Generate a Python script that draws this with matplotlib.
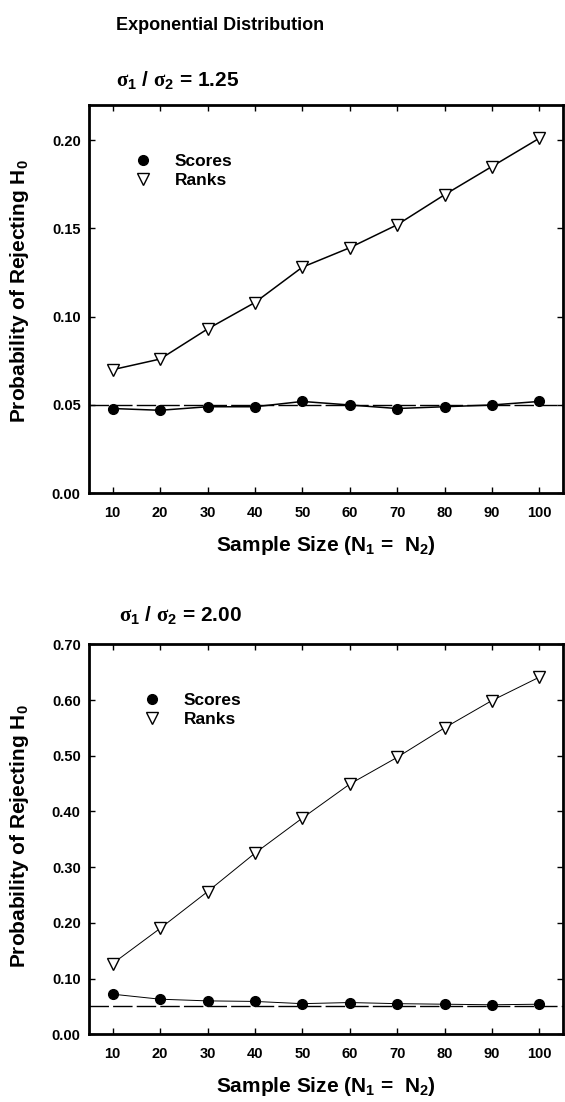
import matplotlib
matplotlib.use("Agg")
import matplotlib.pyplot as plt
from matplotlib.lines import Line2D

plt.rcParams['font.family'] = ['Liberation Sans', 'DejaVu Sans']
plt.rcParams['font.weight'] = 'bold'
plt.rcParams['mathtext.fontset'] = 'custom'
plt.rcParams['mathtext.rm'] = 'Liberation Sans:bold'
plt.rcParams['mathtext.bf'] = 'Liberation Sans:bold'
plt.rcParams['mathtext.it'] = 'Liberation Serif:bold'

# ---- data ----
sample_sizes = [10, 20, 30, 40, 50, 60, 70, 80, 90, 100]
scores_125 = [0.048, 0.047, 0.049, 0.049, 0.052, 0.050, 0.048, 0.049, 0.050, 0.052]
ranks_125 = [0.070, 0.076, 0.093, 0.108, 0.128, 0.139, 0.152, 0.169, 0.185, 0.201]
scores_200 = [0.072, 0.063, 0.060, 0.059, 0.055, 0.057, 0.055, 0.054, 0.053, 0.054]
ranks_200 = [0.127, 0.190, 0.256, 0.325, 0.388, 0.449, 0.497, 0.550, 0.599, 0.641]
alpha_level = 0.05
yticks_125 = [0.00, 0.05, 0.10, 0.15, 0.20]
yticks_200 = [0.00, 0.10, 0.20, 0.30, 0.40, 0.50, 0.60, 0.70]

W, H = 565, 1102
fig = plt.figure(figsize=(W / 100, H / 100), dpi=100)

def px_axes(left, top, right, bottom):
    return fig.add_axes([left / W, 1 - bottom / H, (right - left) / W, (bottom - top) / H])

ax1 = px_axes(89, 104.7, 563, 493.3)
ax2 = px_axes(89, 644.3, 563, 1034.3)

def style(ax, ylim, yticks, legend_anchor, ylab_y):
    ax.set_xlim(5, 105)
    ax.set_ylim(*ylim)
    ax.set_xticks(sample_sizes)
    ax.set_yticks(yticks)
    ax.set_yticklabels([f"{v:.2f}" for v in yticks])
    for s in ax.spines.values():
        s.set_linewidth(2.0)
    ax.tick_params(direction='in', length=4.3, width=1.0, top=True, right=True,
                   labelsize=10.5, pad=6)
    ax.tick_params(axis='x', pad=9)
    for lab in ax.get_xticklabels() + ax.get_yticklabels():
        lab.set_fontweight('bold')
    ax.set_xlabel(r"Sample Size (N$_1$ =  N$_2$)", fontsize=15, fontweight='bold')
    ax.set_ylabel(r"Probability of Rejecting H$_0$", fontsize=15, fontweight='bold')
    ax.xaxis.set_label_coords(0.5, -0.105)
    ax.yaxis.set_label_coords(-0.122, ylab_y)
    handles = [Line2D([], [], marker='o', linestyle='none', color='black', markersize=7),
               Line2D([], [], marker='v', linestyle='none', markerfacecolor='white',
                      markeredgecolor='black', markersize=8, markeredgewidth=1.0)]
    leg = ax.legend(handles, ['Scores', 'Ranks'], loc='upper left',
                    bbox_to_anchor=legend_anchor, frameon=False, fontsize=12.5,
                    handlelength=1.0, handletextpad=1.34, borderpad=0,
                    borderaxespad=0, labelspacing=0.22, numpoints=1)
    for t in leg.get_texts():
        t.set_fontweight('bold')

def draw(ax, scores, ranks, lw):
    ax.axhline(alpha_level, color='black', lw=1.0, dashes=(14, 3), zorder=1)
    ax.plot(sample_sizes, scores, color='black', lw=lw, marker='o', markersize=7, zorder=3)
    ax.plot(sample_sizes, ranks, color='black', lw=lw, marker='v', markersize=8,
            markerfacecolor='white', markeredgecolor='black', markeredgewidth=1.0, zorder=3)

draw(ax1, scores_125, ranks_125, 1.1)
draw(ax2, scores_200, ranks_200, 0.7)
style(ax1, (0, 0.22), yticks_125, (0.0956, 0.873), 0.52)
style(ax2, (0, 0.70), yticks_200, (0.1146, 0.876), 0.507)

fig.text(116 / W, 1 - 25 / H, "Exponential Distribution", fontsize=13,
         fontweight='bold', ha='left', va='center')
fig.text(116 / W, 1 - 80 / H, r"$\sigma_1$ / $\sigma_2$ = 1.25", fontsize=15,
         fontweight='bold', ha='left', va='center')
fig.text(119 / W, 1 - 615 / H, r"$\sigma_1$ / $\sigma_2$ = 2.00", fontsize=15,
         fontweight='bold', ha='left', va='center')

fig.savefig("out.png", dpi=100)
